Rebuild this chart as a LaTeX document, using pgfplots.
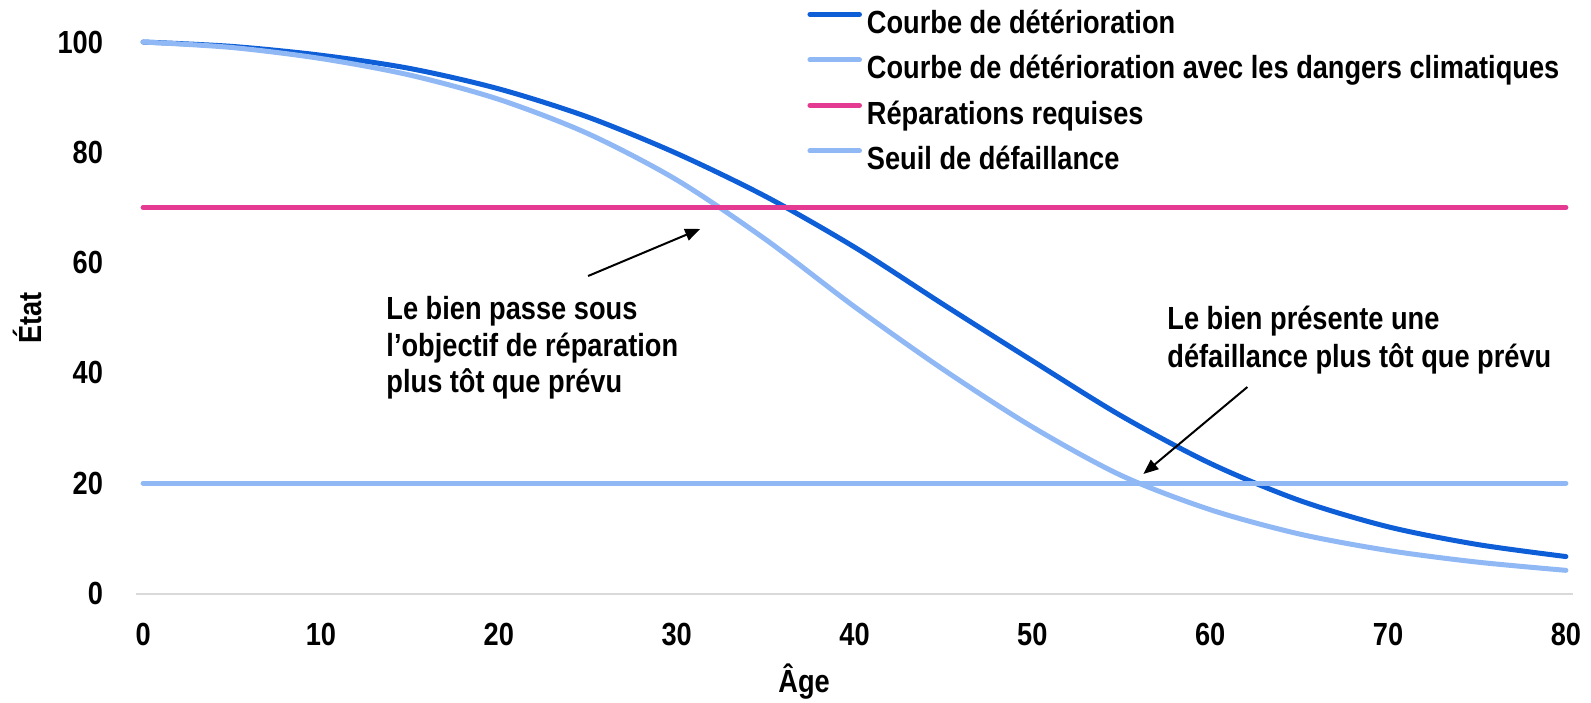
\documentclass[border=0pt]{standalone}
\usepackage{fontspec}
\setmainfont{Liberation Sans}[FakeStretch=0.85]
\usepackage{pgfplots}
\pgfplotsset{compat=1.18}
\usetikzlibrary{arrows.meta}
\definecolor{darkblue}{HTML}{0D5ED7}
\definecolor{lightblue}{HTML}{8FB8F5}
\definecolor{repairpink}{HTML}{E43A91}
\definecolor{axisgray}{HTML}{D9D9D9}
\newcommand{\cf}{\fontsize{16}{19}\selectfont\bfseries}

\pgfplotstableread{
x y
0 100
5 99.2
10 97.6
15 95.2
20 91.5
25 86.4
30 79.8
35 72.0
40 62.8
45 52.4
50 42.2
55 32.2
60 23.6
65 16.9
70 12.1
75 8.9
80 6.7
}\base

\pgfplotstableread{
x y
0 100
5 99.0
10 97.0
15 94.0
20 89.6
25 83.4
30 75.0
35 64.2
40 52.0
45 40.6
50 30.2
55 21.4
60 15.2
65 10.8
70 7.8
75 5.7
80 4.2
}\climate

\begin{document}
\begin{tikzpicture}
\useasboundingbox (-68pt,-54.25pt) rectangle (727.5pt,296.75pt);
\begin{axis}[
  scale only axis, width=718.5pt, height=275.75pt,
  xmin=-0.4, xmax=80.4, ymin=0, ymax=100,
  axis x line*=bottom, axis y line*=left,
  x axis line style={draw=axisgray, line width=1pt},
  y axis line style={draw=none},
  xtick={0,10,...,80}, ytick={0,20,...,100},
  major tick length=0pt, tick style={draw=none},
  /pgf/number format/assume math mode=true,
  xticklabel style={font=\cf, anchor=north, inner sep=0pt, yshift=-14.8pt},
  yticklabel style={font=\cf, anchor=east, inner sep=0pt, xshift=-16.3pt},
  xlabel={Âge}, ylabel={État},
  every axis x label/.style={at={(axis description cs:0.4649,-0.1804)}, anchor=base, font=\cf, inner sep=0pt},
  every axis y label/.style={at={(axis description cs:-0.0656,0.5)}, rotate=90, anchor=base, font=\cf, inner sep=0pt},
  legend cell align=left,
  legend style={at={(axis description cs:0.4670,1.0580)}, anchor=north west,
    draw=none, fill=none, inner sep=0pt, row sep=7.75pt, column sep=2.5pt,
    font=\cf, nodes={inner sep=0pt, text height=11.5pt, text depth=3.5pt}},
  legend image code/.code={\draw[#1, line width=2.5pt, line cap=round] (0pt,5.5pt) -- (24.75pt,5.5pt);},
  clip=false,
]
\addplot[darkblue, line width=2.5pt, line cap=round, smooth] table[x=x, y=y] {\base};
\addplot[lightblue, line width=2.5pt, line cap=round, smooth] table[x=x, y=y] {\climate};
\addplot[repairpink, line width=2.5pt, line cap=round] coordinates {(0,70) (80,70)};
\addplot[lightblue, line width=2.5pt, line cap=round] coordinates {(0,20) (80,20)};
\legend{Courbe de détérioration, Courbe de détérioration avec les dangers climatiques, Réparations requises, Seuil de défaillance}

\node[anchor=base west, inner sep=0pt, font=\cf] at (axis cs:13.66,49.6) {Le bien passe sous};
\node[anchor=base west, inner sep=0pt, font=\cf] at (axis cs:13.66,42.9) {l’objectif de réparation};
\node[anchor=base west, inner sep=0pt, font=\cf] at (axis cs:13.66,36.4) {plus tôt que prévu};
\draw[-{Triangle[length=7.5pt,width=6pt]}, line width=1pt] (axis cs:25.02,57.57) -- (axis cs:31.32,66.1);

\node[anchor=base west, inner sep=0pt, font=\cf] at (axis cs:57.57,47.78) {Le bien présente une};
\node[anchor=base west, inner sep=0pt, font=\cf] at (axis cs:57.57,41.0) {défaillance plus tôt que prévu};
\draw[-{Triangle[length=7.5pt,width=6pt]}, line width=1pt] (axis cs:62.09,37.44) -- (axis cs:56.24,21.67);
\end{axis}
\end{tikzpicture}
\end{document}
